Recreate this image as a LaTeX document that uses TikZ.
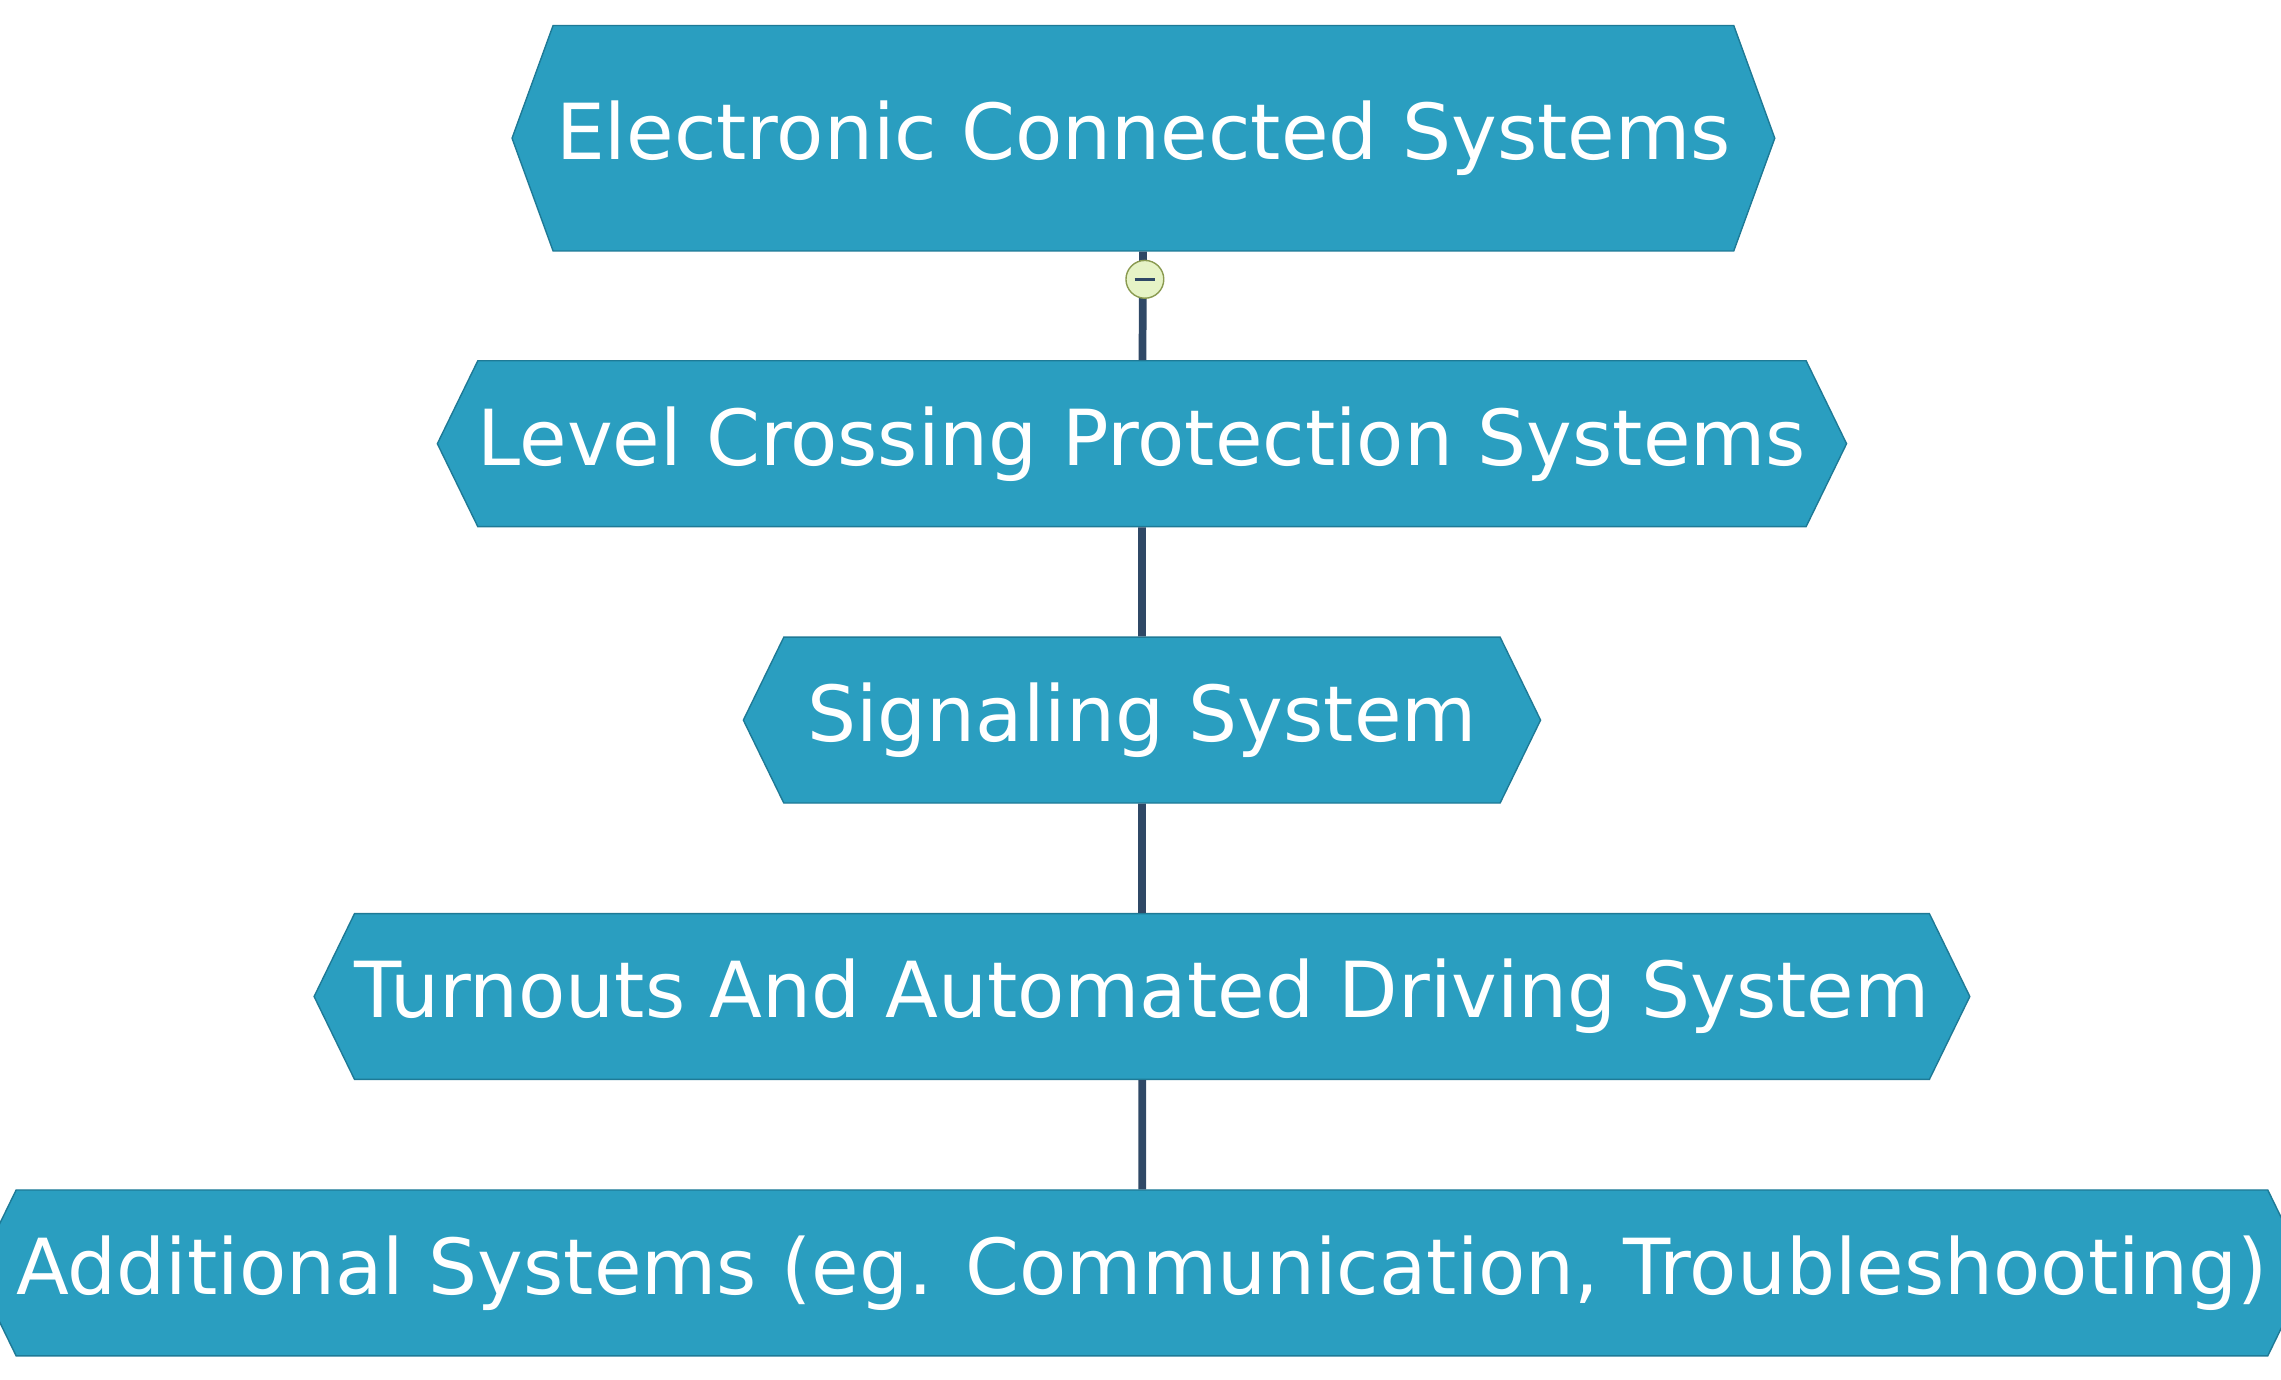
\documentclass[tikz,border=0pt]{standalone}
\usepackage{fontspec}
\setmainfont{DejaVu Sans}
\usetikzlibrary{shapes.symbols,positioning}
\definecolor{boxfill}{HTML}{2A9EC0}
\definecolor{boxline}{HTML}{1E7A96}
\definecolor{linkline}{HTML}{2F4866}
\definecolor{knobfill}{HTML}{E6F3C6}
\definecolor{knobline}{HTML}{8A9A50}
\newlength{\px}
\setlength{\px}{0.01455cm}
\tikzset{
	level/.style={shape=signal, signal to=east and west, fill=boxfill, draw=boxline,
		text=white, inner sep=0pt, minimum height=114\px, signal pointer angle=128,
		font=\fontsize{22}{22}\selectfont},
	link/.style={draw=linkline, line width=2.2pt}
}
\begin{document}
\begin{tikzpicture}[x=\px,y=-\px]
	\useasboundingbox (0,0) rectangle (1568,948);
	
	\node[level, minimum width=868\px, minimum height=155\px, signal pointer angle=140] (ecs) at (786,95) {Electronic Connected Systems};
	\node[level, minimum width=954\px] (lcp) at (785,305) {Level Crossing Protection Systems};
	\node[level, minimum width=548\px] (sig) at (785,495) {Signaling System};
	\node[level, minimum width=1129\px] (tad) at (785,685) {Turnouts And Automated Driving System};
	\node[level, minimum width=1546\px] (add) at (785,875) {Additional Systems (eg. Communication, Troubleshooting)};
	
	\draw[link] (ecs) -- (lcp);
	\draw[link] (lcp) -- (sig);
	\draw[link] (sig) -- (tad);
	\draw[link] (tad) -- (add);
	
	\node[circle, draw=knobline, fill=knobfill, minimum size=26\px, inner sep=0pt] (knob) at (787,192) {};
	\draw[linkline, line width=1pt] ([xshift=-7\px]knob.center) -- ([xshift=7\px]knob.center);
\end{tikzpicture}
\end{document}
